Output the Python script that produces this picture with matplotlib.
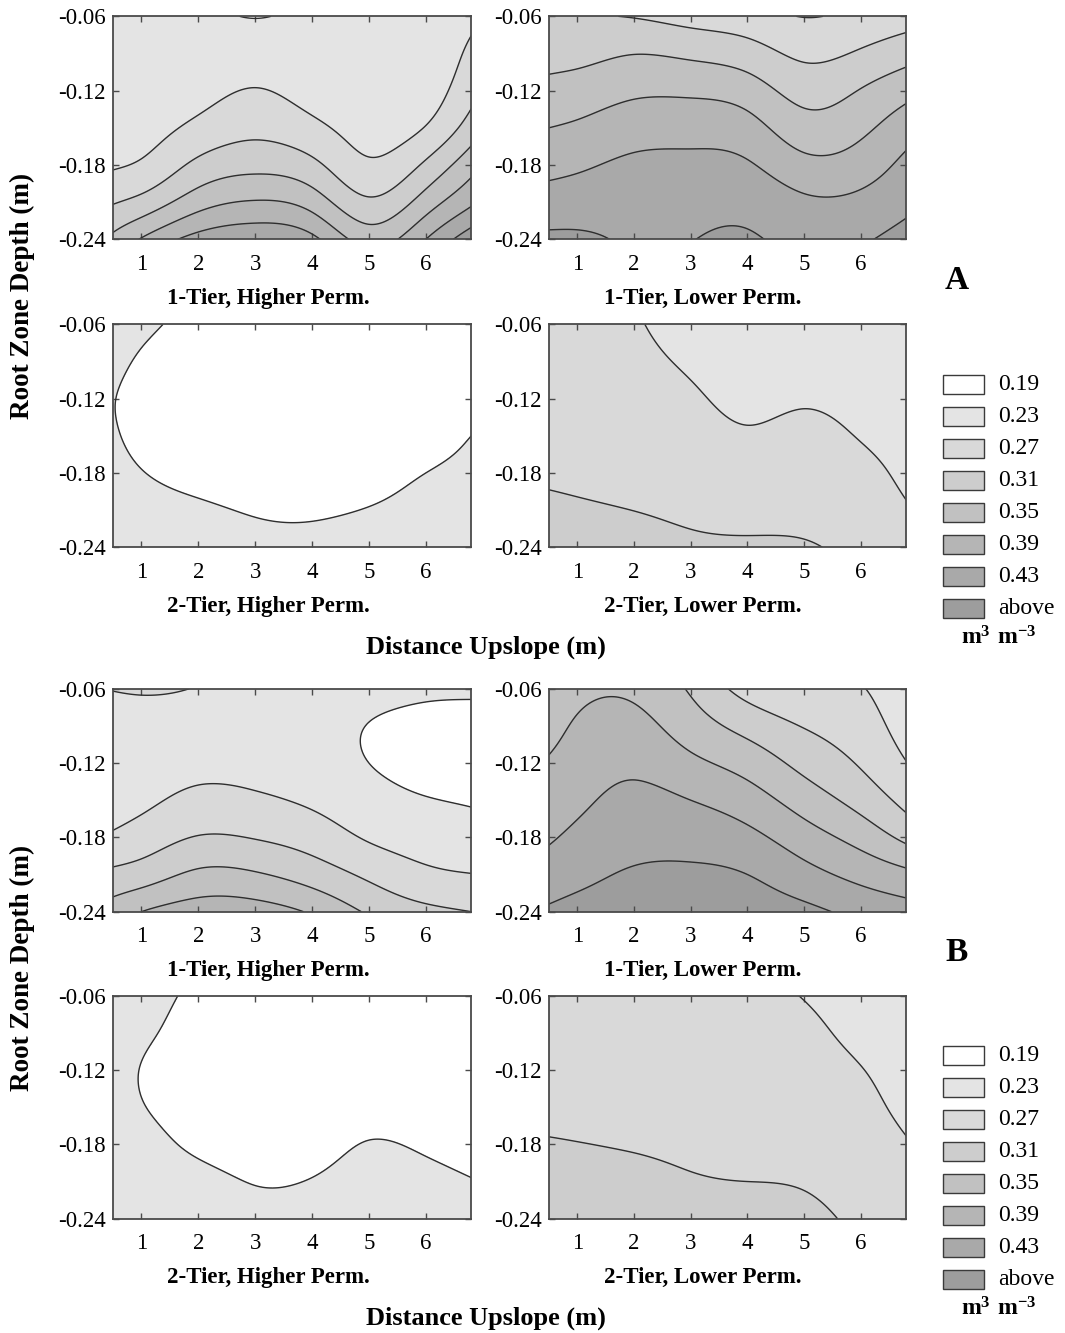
import numpy as np
import matplotlib
matplotlib.use("Agg")
import matplotlib.pyplot as plt
from matplotlib.patches import Rectangle

plt.rcParams['font.family'] = ['Liberation Serif', 'DejaVu Serif']
plt.rcParams['mathtext.fontset'] = 'custom'
plt.rcParams['mathtext.rm'] = 'Liberation Serif'
plt.rcParams['mathtext.bf'] = 'Liberation Serif:bold'

# ---------------- data ----------------
distance_nodes = [0.5, 1.0, 2.0, 3.0, 4.0, 5.0, 6.0, 6.8]          # m upslope
depth_nodes = [-0.06, -0.09, -0.12, -0.15, -0.18, -0.21, -0.24]    # m
levels = [0.19, 0.23, 0.27, 0.31, 0.35, 0.39, 0.43]
legend_labels = ['0.19', '0.23', '0.27', '0.31', '0.35', '0.39', '0.43', 'above']
x_ticks = [1, 2, 3, 4, 5, 6]
y_ticks = [-0.06, -0.12, -0.18, -0.24]
y_tick_labels = ['-0.06', '-0.12', '-0.18', '-0.24']
panel_titles = ['1-Tier, Higher Perm.', '1-Tier, Lower Perm.',
                '2-Tier, Higher Perm.', '2-Tier, Lower Perm.']

# soil water content (m3 m-3); rows = depth_nodes, columns = distance_nodes
a_1tier_higher = [
    [0.198, 0.200, 0.197, 0.189, 0.197, 0.198, 0.192, 0.218],
    [0.201, 0.203, 0.203, 0.208, 0.203, 0.200, 0.198, 0.240],
    [0.205, 0.207, 0.216, 0.232, 0.215, 0.205, 0.210, 0.258],
    [0.211, 0.215, 0.240, 0.259, 0.240, 0.215, 0.232, 0.288],
    [0.226, 0.235, 0.280, 0.298, 0.280, 0.236, 0.277, 0.335],
    [0.267, 0.283, 0.333, 0.353, 0.333, 0.277, 0.329, 0.383],
    [0.320, 0.353, 0.405, 0.420, 0.400, 0.334, 0.390, 0.455],
]
a_1tier_lower = [
    [0.283, 0.275, 0.268, 0.255, 0.245, 0.229, 0.240, 0.252],
    [0.297, 0.298, 0.309, 0.302, 0.288, 0.262, 0.275, 0.294],
    [0.322, 0.328, 0.343, 0.343, 0.330, 0.295, 0.312, 0.337],
    [0.350, 0.356, 0.372, 0.375, 0.365, 0.327, 0.341, 0.372],
    [0.378, 0.384, 0.398, 0.400, 0.394, 0.362, 0.370, 0.400],
    [0.407, 0.410, 0.415, 0.418, 0.418, 0.397, 0.400, 0.420],
    [0.438, 0.437, 0.425, 0.429, 0.434, 0.418, 0.425, 0.445],
]
a_2tier_higher = [
    [0.205, 0.196, 0.183, 0.180, 0.180, 0.180, 0.182, 0.184],
    [0.197, 0.187, 0.178, 0.175, 0.175, 0.176, 0.178, 0.181],
    [0.191, 0.182, 0.175, 0.172, 0.172, 0.174, 0.177, 0.182],
    [0.193, 0.183, 0.176, 0.173, 0.173, 0.176, 0.180, 0.190],
    [0.199, 0.191, 0.182, 0.178, 0.178, 0.181, 0.190, 0.197],
    [0.204, 0.200, 0.194, 0.188, 0.187, 0.191, 0.198, 0.203],
    [0.208, 0.206, 0.204, 0.198, 0.197, 0.201, 0.204, 0.208],
]
a_2tier_lower = [
    [0.240, 0.240, 0.233, 0.215, 0.205, 0.205, 0.205, 0.205],
    [0.245, 0.244, 0.238, 0.225, 0.212, 0.213, 0.210, 0.208],
    [0.250, 0.249, 0.244, 0.235, 0.221, 0.226, 0.218, 0.212],
    [0.256, 0.255, 0.251, 0.245, 0.234, 0.240, 0.228, 0.217],
    [0.264, 0.262, 0.258, 0.254, 0.248, 0.250, 0.240, 0.223],
    [0.278, 0.275, 0.2697, 0.264, 0.260, 0.260, 0.250, 0.233],
    [0.290, 0.288, 0.283, 0.276, 0.275, 0.273, 0.260, 0.245],
]
b_1tier_higher = [
    [0.231, 0.233, 0.229, 0.222, 0.212, 0.205, 0.197, 0.196],
    [0.218, 0.218, 0.219, 0.215, 0.207, 0.189, 0.180, 0.178],
    [0.214, 0.214, 0.220, 0.218, 0.210, 0.190, 0.178, 0.175],
    [0.215, 0.222, 0.240, 0.236, 0.224, 0.205, 0.192, 0.187],
    [0.236, 0.248, 0.272, 0.268, 0.252, 0.226, 0.213, 0.205],
    [0.280, 0.290, 0.318, 0.314, 0.292, 0.262, 0.238, 0.231],
    [0.330, 0.350, 0.370, 0.368, 0.345, 0.305, 0.280, 0.270],
]
b_1tier_lower = [
    [0.322, 0.338, 0.342, 0.305, 0.255, 0.238, 0.232, 0.203],
    [0.336, 0.355, 0.362, 0.330, 0.296, 0.268, 0.247, 0.214],
    [0.354, 0.368, 0.381, 0.359, 0.334, 0.298, 0.266, 0.231],
    [0.370, 0.382, 0.400, 0.390, 0.368, 0.332, 0.295, 0.258],
    [0.386, 0.398, 0.415, 0.416, 0.401, 0.368, 0.335, 0.300],
    [0.408, 0.418, 0.435, 0.437, 0.430, 0.404, 0.378, 0.360],
    [0.436, 0.445, 0.455, 0.460, 0.450, 0.440, 0.418, 0.405],
]
b_2tier_higher = [
    [0.205, 0.198, 0.186, 0.178, 0.178, 0.180, 0.180, 0.180],
    [0.202, 0.194, 0.182, 0.174, 0.175, 0.177, 0.177, 0.177],
    [0.199, 0.1893, 0.180, 0.172, 0.174, 0.177, 0.176, 0.175],
    [0.200, 0.1912, 0.181, 0.174, 0.176, 0.182, 0.179, 0.177],
    [0.204, 0.198, 0.186, 0.180, 0.182, 0.191, 0.187, 0.182],
    [0.208, 0.204, 0.197, 0.189, 0.191, 0.198, 0.196, 0.191],
    [0.212, 0.208, 0.205, 0.198, 0.200, 0.204, 0.203, 0.200],
]
b_2tier_lower = [
    [0.245, 0.244, 0.242, 0.240, 0.236, 0.229, 0.215, 0.205],
    [0.249, 0.248, 0.245, 0.243, 0.240, 0.236, 0.222, 0.210],
    [0.253, 0.252, 0.250, 0.247, 0.244, 0.241, 0.231, 0.216],
    [0.259, 0.258, 0.256, 0.252, 0.250, 0.247, 0.238, 0.223],
    [0.273, 0.271, 0.267, 0.262, 0.258, 0.255, 0.245, 0.232],
    [0.285, 0.283, 0.280, 0.273, 0.270, 0.267, 0.253, 0.240],
    [0.295, 0.293, 0.290, 0.285, 0.282, 0.279, 0.262, 0.248],
]

group_a = [a_1tier_higher, a_1tier_lower, a_2tier_higher, a_2tier_lower]
group_b = [b_1tier_higher, b_1tier_lower, b_2tier_higher, b_2tier_lower]

# ---------------- style ----------------
fill_colors = ['#ffffff', '#e4e4e4', '#d9d9d9', '#cdcdcd',
               '#c1c1c1', '#b5b5b5', '#a9a9a9', '#9d9d9d']
line_color = '#2e2e2e'
frame_color = '#4a4a4a'


def spline_weights(nodes, targets):
    """Natural cubic-spline weights for smooth rendering of the node grid."""
    nodes = np.asarray(nodes, float)
    t = np.asarray(targets, float)
    n = len(nodes)
    h = np.diff(nodes)
    A = np.zeros((n, n))
    B = np.zeros((n, n))
    A[0, 0] = 1.0
    A[-1, -1] = 1.0
    for i in range(1, n - 1):
        A[i, i - 1] = h[i - 1] / 6.0
        A[i, i] = (h[i - 1] + h[i]) / 3.0
        A[i, i + 1] = h[i] / 6.0
        B[i, i - 1] = 1.0 / h[i - 1]
        B[i, i] = -1.0 / h[i - 1] - 1.0 / h[i]
        B[i, i + 1] = 1.0 / h[i]
    M = np.linalg.solve(A, B)
    idx = np.clip(np.searchsorted(nodes, t) - 1, 0, n - 2)
    W = np.zeros((len(t), n))
    for k, (ti, i) in enumerate(zip(t, idx)):
        hi = h[i]
        a = (nodes[i + 1] - ti) / hi
        b = (ti - nodes[i]) / hi
        W[k, i] += a
        W[k, i + 1] += b
        W[k] += ((a ** 3 - a) * hi ** 2 / 6.0) * M[i] + ((b ** 3 - b) * hi ** 2 / 6.0) * M[i + 1]
    return W


xf = np.linspace(distance_nodes[0], distance_nodes[-1], 260)
df = np.linspace(depth_nodes[0], depth_nodes[-1], 140)
Wx = spline_weights(distance_nodes, xf)
Wd = spline_weights(-np.asarray(depth_nodes), -df)
XF, DF = np.meshgrid(xf, df)

W, H = 1065, 1333
fig = plt.figure(figsize=(W / 100, H / 100), dpi=100)

col_px = [(113, 471.3), (549, 906.3)]
row_bottom_px = [239.3, 547.3, 911.7, 1218.7]
panel_h = 223.0
title_x_px = [268, 703]
title_dy = 59

fill_levels = [-1.0] + levels + [2.0]


def draw_panel(grid, row, col, title):
    x0, x1 = col_px[col]
    yb = row_bottom_px[row]
    ax = fig.add_axes([x0 / W, 1 - yb / H, (x1 - x0) / W, panel_h / H])
    Z = Wd @ np.asarray(grid) @ Wx.T
    ax.contourf(XF, DF, Z, levels=fill_levels, colors=fill_colors)
    ax.contour(XF, DF, Z, levels=levels, colors=line_color, linewidths=1.0)
    ax.set_xlim(distance_nodes[0], distance_nodes[-1])
    ax.set_ylim(depth_nodes[-1], depth_nodes[0])
    ax.set_xticks(x_ticks)
    ax.set_xticklabels([str(v) for v in x_ticks])
    ax.set_yticks(y_ticks)
    ax.set_yticklabels(y_tick_labels)
    ax.tick_params(axis='both', direction='in', top=True, right=True,
                   length=4, width=1.0, color=frame_color, labelsize=16.5)
    ax.tick_params(axis='x', pad=10.5)
    ax.tick_params(axis='y', pad=5)
    for s in ax.spines.values():
        s.set_color(frame_color)
        s.set_linewidth(1.3)
    fig.text(title_x_px[col] / W, 1 - (yb + title_dy) / H, title,
             ha='center', va='center', fontsize=16.5, fontweight='bold')
    return ax


for g, grids in enumerate([group_a, group_b]):
    for p, grid in enumerate(grids):
        r = 2 * g + p // 2
        c = p % 2
        draw_panel(grid, r, c, panel_titles[p])

# axis labels and group letters
for g in range(2):
    top_px = row_bottom_px[2 * g] - panel_h
    bot_px = row_bottom_px[2 * g + 1]
    fig.text(22 / W, 1 - (top_px + bot_px) / 2 / H - 14 / H, 'Root Zone Depth (m)',
             rotation=90, ha='center', va='center', fontsize=19.5, fontweight='bold')
    fig.text(486 / W, 1 - (bot_px + 100) / H, 'Distance Upslope (m)',
             ha='center', va='center', fontsize=19, fontweight='bold')
    fig.text(957 / W, 1 - (row_bottom_px[2 * g] + 41) / H, 'AB'[g],
             ha='center', va='center', fontsize=24, fontweight='bold')
    # legend
    first_c = row_bottom_px[2 * g + 1] - panel_h + 60.2
    for i, (lab, colr) in enumerate(zip(legend_labels, fill_colors)):
        cy = first_c + 32 * i
        fig.add_artist(Rectangle((943 / W, 1 - (cy + 9.5) / H), 41 / W, 19 / H,
                                 transform=fig.transFigure, facecolor=colr,
                                 edgecolor='#3a3a3a', linewidth=1.0))
        fig.text(998 / W, 1 - cy / H, lab, ha='left', va='center', fontsize=17)
    fig.text(999 / W, 1 - (first_c + 253) / H, r'$\mathbf{m^{3}\ m^{-3}}$',
             ha='center', va='center', fontsize=17)

fig.savefig('out.png', dpi=100)
